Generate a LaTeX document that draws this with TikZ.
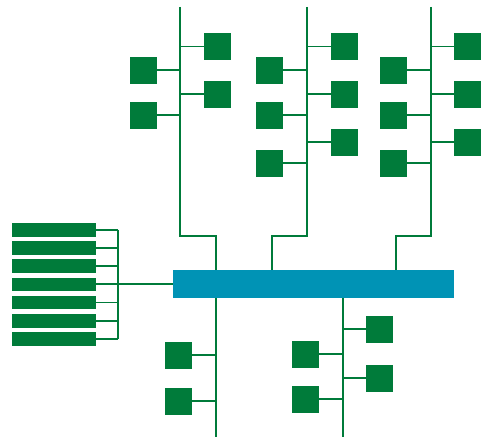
\documentclass[tikz,border=0pt]{standalone}
\usetikzlibrary{positioning}
\definecolor{netgreen}{RGB}{0,123,58}
\definecolor{netblue}{RGB}{0,147,181}
\begin{document}
\begin{tikzpicture}[x=1pt,y=-1pt,node distance=4.1pt,
		line/.style={draw=netgreen,line width=1.8pt},
		sq/.style={fill=netgreen,inner sep=0pt,minimum width=27pt,minimum height=27pt},
		tray/.style={fill=netgreen,inner sep=0pt,minimum width=84pt,minimum height=13.7pt},
		hub/.style={fill=netblue,inner sep=0pt,minimum width=281pt,minimum height=27.7pt}
		]
		\useasboundingbox (0,0) rectangle (491,438);
		\node (hb) [hub] at (313.5,283.9) {};
		% left stack
		\node (r1) [tray] at (54,229.8) {};
		\node (r2) [below=of r1,tray] {};
		\node (r3) [below=of r2,tray] {};
		\node (r4) [below=of r3,tray] {};
		\node (r5) [below=of r4,tray] {};
		\node (r6) [below=of r5,tray] {};
		\node (r7) [below=of r6,tray] {};
		\coordinate (cv) at (118.3,229.8);
		\draw [line] (r1 -| cv) -- (r7 -| cv);
		\draw [line] (r1.east) -- (r1 -| cv);
		\draw [line] (r2.east) -- (r2 -| cv);
		\draw [line] (r3.east) -- (r3 -| cv);
		\draw [line] (r4.east) -- (r4 -| cv);
		\draw [line] (r5.east) -- (r5 -| cv);
		\draw [line] (r6.east) -- (r6 -| cv);
		\draw [line] (r7.east) -- (r7 -| cv);
		\draw [line] (r4 -| cv) -- (r4 -| hb.west);
		% upper bus 1
		\coordinate (t1) at (180,7);
		\coordinate (j1) at (215.7,236);
		\draw [line] (t1) -- (t1 |- j1) -- (j1) -- (j1 |- hb.north);
		\node (a1) [sq] at (217.3,46.5) {};
		\node (a2) [sq] at (217.3,94.3) {};
		\node (a3) [sq] at (143.5,70.3) {};
		\node (a4) [sq] at (143.5,115.3) {};
		\draw [line] (a1.west) -- (a1 -| t1);
		\draw [line] (a2.west) -- (a2 -| t1);
		\draw [line] (a3.east) -- (a3 -| t1);
		\draw [line] (a4.east) -- (a4 -| t1);
		% upper bus 2
		\coordinate (t2) at (306.7,7);
		\coordinate (j2) at (272,236);
		\draw [line] (t2) -- (t2 |- j2) -- (j2) -- (j2 |- hb.north);
		\node (c1) [sq] at (344.5,46.5) {};
		\node (c2) [sq] at (344.5,94.3) {};
		\node (c3) [sq] at (344.5,142.3) {};
		\node (c4) [sq] at (269.5,70.3) {};
		\node (c5) [sq] at (269.5,115.3) {};
		\node (c6) [sq] at (269.5,163.3) {};
		\draw [line] (c1.west) -- (c1 -| t2);
		\draw [line] (c2.west) -- (c2 -| t2);
		\draw [line] (c3.west) -- (c3 -| t2);
		\draw [line] (c4.east) -- (c4 -| t2);
		\draw [line] (c5.east) -- (c5 -| t2);
		\draw [line] (c6.east) -- (c6 -| t2);
		% upper bus 3
		\coordinate (t3) at (430.7,7);
		\coordinate (j3) at (395.7,236);
		\draw [line] (t3) -- (t3 |- j3) -- (j3) -- (j3 |- hb.north);
		\node (e1) [sq] at (467.5,46.5) {};
		\node (e2) [sq] at (467.5,94.3) {};
		\node (e3) [sq] at (467.5,142.3) {};
		\node (e4) [sq] at (393.5,70.3) {};
		\node (e5) [sq] at (393.5,115.3) {};
		\node (e6) [sq] at (393.5,163.3) {};
		\draw [line] (e1.west) -- (e1 -| t3);
		\draw [line] (e2.west) -- (e2 -| t3);
		\draw [line] (e3.west) -- (e3 -| t3);
		\draw [line] (e4.east) -- (e4 -| t3);
		\draw [line] (e5.east) -- (e5 -| t3);
		\draw [line] (e6.east) -- (e6 -| t3);
		% lower bus 1
		\coordinate (b1) at (216,437);
		\draw [line] (hb.south -| b1) -- (b1);
		\node (d1) [sq] at (178.5,355.3) {};
		\node (d2) [sq] at (178.5,401.3) {};
		\draw [line] (d1.east) -- (d1 -| b1);
		\draw [line] (d2.east) -- (d2 -| b1);
		% lower bus 2
		\coordinate (b2) at (342.7,437);
		\draw [line] (hb.south -| b2) -- (b2);
		\node (f1) [sq] at (379.5,329.3) {};
		\node (f2) [sq] at (379.5,378.3) {};
		\node (f3) [sq] at (305.5,354.3) {};
		\node (f4) [sq] at (305.5,399.3) {};
		\draw [line] (f1.west) -- (f1 -| b2);
		\draw [line] (f2.west) -- (f2 -| b2);
		\draw [line] (f3.east) -- (f3 -| b2);
		\draw [line] (f4.east) -- (f4 -| b2);
	\end{tikzpicture}
\end{document}
